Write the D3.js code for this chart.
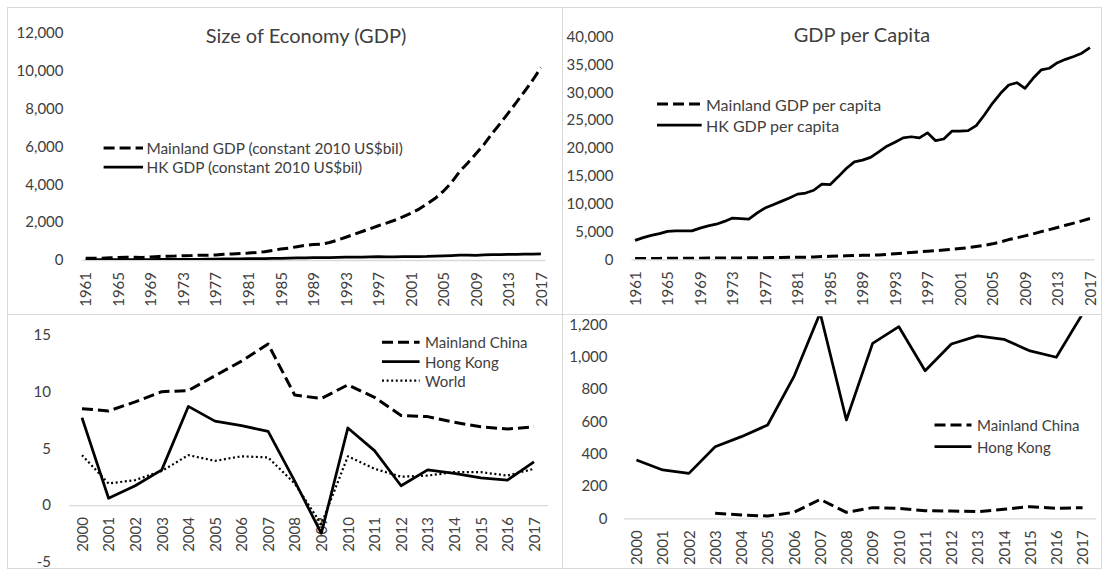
<!DOCTYPE html>
<html>
<head>
    <meta charset="utf-8">
    <title>Mainland China and Hong Kong</title>
    <script src="https://cdn.jsdelivr.net/npm/d3@7"></script>
    <style>
        body { margin: 0; background: #ffffff; }
        text { font-family: Lato, "Open Sans", sans-serif; fill: #404040; }
        .tick text { font-size: 15px; }
        .border { fill: none; stroke: #d9d9d9; stroke-width: 1px; }
    </style>
</head>
<body>
<div id="chart"></div>
<script>
    // ---- data ----
    const years_long = d3.range(1961, 2018);
    const years_short = d3.range(2000, 2018);

    // Size of Economy, constant 2010 US$ bil
    const mainland_gdp = [94, 89, 98, 116, 136, 150, 141, 135, 159, 190, 204, 211, 228, 233, 253, 249, 268, 299, 322, 347,
        365, 398, 441, 508, 577, 628, 701, 780, 812, 843, 921, 1052, 1200, 1356, 1505, 1655, 1809, 1950, 2099, 2277,
        2466, 2690, 2960, 3259, 3630, 4091, 4673, 5123, 5604, 6101, 6684, 7209, 7769, 8338, 8909, 9505, 10160];
    const hk_gdp = [13, 15, 17, 18, 21, 21, 22, 23, 25, 27, 29, 32, 36, 37, 37, 43, 48, 53, 59, 65,
        71, 73, 77, 84, 85, 94, 107, 116, 119, 123, 130, 138, 146, 154, 157, 164, 172, 163, 168, 180,
        181, 184, 189, 206, 221, 236, 251, 256, 250, 267, 280, 285, 293, 301, 308, 314, 326];

    // GDP per capita, constant 2010 US$
    const mainland_pc = [143, 134, 143, 164, 187, 200, 183, 171, 196, 228, 238, 240, 254, 254, 270, 261, 276, 308, 327, 347,
        362, 388, 423, 481, 539, 576, 632, 693, 711, 729, 787, 888, 1003, 1122, 1234, 1344, 1454, 1554, 1659, 1788,
        1924, 2088, 2285, 2503, 2774, 3111, 3539, 3864, 4206, 4561, 4972, 5335, 5722, 6108, 6497, 6895, 7329];
    const hk_pc = [3400, 3900, 4300, 4600, 5000, 5100, 5100, 5100, 5600, 6000, 6300, 6800, 7400, 7300, 7200, 8300, 9200, 9800, 10400, 11000,
        11700, 11900, 12400, 13500, 13400, 14800, 16300, 17500, 17800, 18300, 19300, 20300, 21000, 21800, 22000, 21800, 22700, 21300, 21600, 23000,
        23000, 23100, 24000, 25900, 28000, 29800, 31300, 31700, 30700, 32500, 34000, 34300, 35300, 35900, 36400, 37000, 38000];

    // GDP growth, %
    const mainland_growth = [8.5, 8.3, 9.1, 10.0, 10.1, 11.4, 12.7, 14.2, 9.7, 9.4, 10.6, 9.5, 7.9, 7.8, 7.3, 6.9, 6.7, 6.9];
    const hk_growth = [7.7, 0.6, 1.7, 3.1, 8.7, 7.4, 7.0, 6.5, 2.1, -2.5, 6.8, 4.8, 1.7, 3.1, 2.8, 2.4, 2.2, 3.8];
    const world_growth = [4.4, 1.9, 2.2, 3.0, 4.4, 3.9, 4.3, 4.2, 1.9, -1.7, 4.3, 3.2, 2.5, 2.6, 2.9, 2.9, 2.6, 3.2];

    // bottom right panel (no values for mainland before 2003)
    const mainland_br = [null, null, null, 31, 20, 14, 37, 117, 37, 66, 62, 47, 45, 41, 56, 72, 62, 66];
    const hk_br = [361, 299, 278, 443, 505, 577, 876, 1270, 608, 1082, 1185, 913, 1078, 1128, 1107, 1035, 996, 1265];

    const ticks_gdp = [0, 2000, 4000, 6000, 8000, 10000, 12000];
    const ticks_pc = [0, 5000, 10000, 15000, 20000, 25000, 30000, 35000, 40000];
    const ticks_growth = [-5, 0, 5, 10, 15];
    const ticks_br = [0, 200, 400, 600, 800, 1000, 1200];
    const long_labels = years_long.filter(y => (y - 1961) % 4 === 0);

    const width = 1103;
    const height = 570;

    const svg = d3.select("#chart").append("svg")
        .attr("width", width)
        .attr("height", height);

    // chart frames
    const frames = [[7, 7, 555, 307], [562, 7, 539, 307], [7, 314, 555, 254], [562, 314, 539, 254]];
    svg.selectAll("rect.border").data(frames).enter().append("rect")
        .attr("class", "border")
        .attr("x", d => d[0] + 0.5).attr("y", d => d[1] + 0.5)
        .attr("width", d => d[2]).attr("height", d => d[3]);

    const styles = {
        dash: { dash: "11,5", w: 3 },
        solid: { dash: null, w: 2.75 },
        dot: { dash: "2,2.6", w: 2.2 }
    };

    let clip_id = 0;

    function panel(p) {
        const g = svg.append("g");
        const x = d3.scalePoint().domain(p.cats).range(p.xr).padding(0.5);
        const y = d3.scaleLinear().domain(p.yd).range(p.yr);

        // y axis labels
        const ya = g.append("g")
            .attr("transform", `translate(${p.label_x},0)`)
            .call(d3.axisLeft(y).tickValues(p.yticks).tickSize(0).tickPadding(0).tickFormat(p.yfmt));
        ya.select(".domain").remove();
        ya.selectAll("text").attr("fill", "#404040").style("font-family", "Lato");

        // category axis sitting on zero
        const xa = g.append("g")
            .attr("transform", `translate(0,${y(0)})`)
            .call(d3.axisBottom(x).tickValues(p.xticks).tickSize(0).tickPadding(0));
        xa.select(".domain").attr("stroke", "#d9d9d9").attr("stroke-width", 1.3);
        xa.selectAll("text")
            .attr("fill", "#404040")
            .style("font-family", "Lato")
            .attr("text-anchor", "end")
            .attr("dy", "0.35em")
            .attr("transform", "translate(0,12) rotate(-90)")
            .attr("x", 0).attr("y", 0);

        // clip to plot area
        clip_id += 1;
        g.append("clipPath").attr("id", "clip" + clip_id)
            .append("rect")
            .attr("x", p.xr[0]).attr("y", Math.min(p.yr[0], p.yr[1]))
            .attr("width", p.xr[1] - p.xr[0]).attr("height", Math.abs(p.yr[0] - p.yr[1]));

        const line = d3.line()
            .defined(d => d[1] !== null)
            .x(d => x(d[0]))
            .y(d => y(d[1]));

        p.series.forEach(s => {
            const st = styles[s.style];
            g.append("path")
                .datum(p.cats.map((c, i) => [c, s.values[i]]))
                .attr("clip-path", "url(#clip" + clip_id + ")")
                .attr("fill", "none")
                .attr("stroke", "#000000")
                .attr("stroke-width", st.w)
                .attr("stroke-dasharray", st.dash)
                .attr("stroke-linejoin", "round")
                .attr("d", line);
        });

        // legend
        p.series.forEach((s, i) => {
            const st = styles[s.style];
            const ly = p.legend.rows[i];
            g.append("line")
                .attr("x1", p.legend.x1).attr("x2", p.legend.x2)
                .attr("y1", ly).attr("y2", ly)
                .attr("stroke", "#000000")
                .attr("stroke-width", st.w)
                .attr("stroke-dasharray", st.dash);
            g.append("text")
                .attr("x", p.legend.tx).attr("y", ly)
                .attr("dominant-baseline", "central")
                .style("font-size", p.legend.size + "px")
                .text(s.name);
        });

        if (p.title) {
            g.append("text")
                .attr("x", p.title.x).attr("y", p.title.y)
                .attr("text-anchor", "middle")
                .style("font-size", "20px")
                .text(p.title.text);
        }
    }

    // top left: size of economy
    panel({
        cats: years_long, xticks: long_labels, xr: [81.6, 545],
        yd: [0, 12000], yr: [260, 32.7], yticks: ticks_gdp, yfmt: d3.format(","), label_x: 63.5,
        title: { text: "Size of Economy (GDP)", x: 306, y: 43 },
        series: [
            { name: "Mainland GDP (constant 2010 US$bil)", values: mainland_gdp, style: "dash" },
            { name: "HK GDP (constant 2010 US$bil)", values: hk_gdp, style: "solid" }
        ],
        legend: { x1: 103.6, x2: 143, tx: 146.4, rows: [148, 167], size: 15.4 }
    });

    // top right: GDP per capita
    panel({
        cats: years_long, xticks: long_labels, xr: [631, 1094],
        yd: [0, 40000], yr: [259.3, 36.5], yticks: ticks_pc, yfmt: d3.format(","), label_x: 613.5,
        title: { text: "GDP per Capita", x: 862, y: 42 },
        series: [
            { name: "Mainland GDP per capita", values: mainland_pc, style: "dash" },
            { name: "HK GDP per capita", values: hk_pc, style: "solid" }
        ],
        legend: { x1: 657, x2: 701.7, tx: 706, rows: [104, 125], size: 16 }
    });

    // bottom left: growth (plain hyphen for the minus sign)
    panel({
        cats: years_short, xticks: years_short, xr: [68.7, 547.3],
        yd: [-5, 15], yr: [561.7, 335], yticks: ticks_growth, yfmt: d => String(d), label_x: 51,
        series: [
            { name: "Mainland China", values: mainland_growth, style: "dash" },
            { name: "Hong Kong", values: hk_growth, style: "solid" },
            { name: "World", values: world_growth, style: "dot" }
        ],
        legend: { x1: 382, x2: 419.6, tx: 425, rows: [342.3, 361.7, 380.7], size: 15 }
    });

    // bottom right
    panel({
        cats: years_short, xticks: years_short, xr: [623.3, 1095.7],
        yd: [0, 1250], yr: [518.3, 316.2], yticks: ticks_br, yfmt: d3.format(","), label_x: 607.5,
        series: [
            { name: "Mainland China", values: mainland_br, style: "dash" },
            { name: "Hong Kong", values: hk_br, style: "solid" }
        ],
        legend: { x1: 934.5, x2: 971.5, tx: 977, rows: [425, 446.7], size: 15 }
    });
</script>
</body>
</html>
